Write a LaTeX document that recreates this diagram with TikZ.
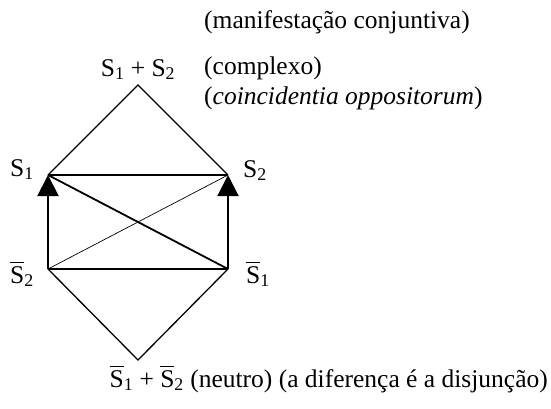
\documentclass[tikz,border=0pt]{standalone}
\usepackage{fontspec}
\usepackage{amsmath}
\setmainfont{Liberation Serif}
\usetikzlibrary{arrows.meta}
\newcommand{\sbarsub}[1]{\ensuremath{\overline{\text{S}}}\textsubscript{#1}}
\begin{document}
\begin{tikzpicture}[x=1pt,y=-1pt,
  lab/.style={inner sep=0pt,font=\fontsize{25.5}{30}\selectfont},
  heavy/.style={line width=1.8pt},
  medium/.style={line width=1.3pt},
  light/.style={line width=0.7pt},
  bigarrow/.style={line width=2pt,-{Triangle[length=21pt,width=21pt]}}]
\useasboundingbox (0,0) rectangle (551,408);
\coordinate (top) at (138,85);
\coordinate (a) at (48,175);
\coordinate (b) at (228,175);
\coordinate (c) at (48,269);
\coordinate (d) at (228,269);
\coordinate (bot) at (138,360);
\draw[medium] (a) -- (top) -- (b);
\draw[medium] (a) -- (b);
\draw[heavy] (a) -- (d);
\draw[light] (c) -- (b);
\draw[heavy] (c) -- (d);
\draw[medium] (c) -- (bot) -- (d);
\draw[bigarrow] (c) -- (a);
\draw[bigarrow] (d) -- (b);
\node[lab,anchor=base] (ttop) at (138,76) {S\textsubscript{1} + S\textsubscript{2}};
\node[lab,anchor=base west] (tcomp) at (204,74) {(complexo)};
\node[lab,anchor=base west] (tcoin) at (204,104) {(\textit{coincidentia oppositorum})};
\node[lab,anchor=base west] (tman) at (204,28) {(manifestação conjuntiva)};
\node[lab,anchor=base east] (ts1) at (34,176) {S\textsubscript{1}};
\node[lab,anchor=base west] (ts2) at (243,177) {S\textsubscript{2}};
\node[lab,anchor=base east] (tsb2) at (34,283) {\sbarsub{2}};
\node[lab,anchor=base west] (tsb1) at (246,283) {\sbarsub{1}};
\node[lab,anchor=base east] (tbot) at (548,387) {\sbarsub{1} + \sbarsub{2} (neutro) (a diferença é a disjunção)};
\end{tikzpicture}
\end{document}
